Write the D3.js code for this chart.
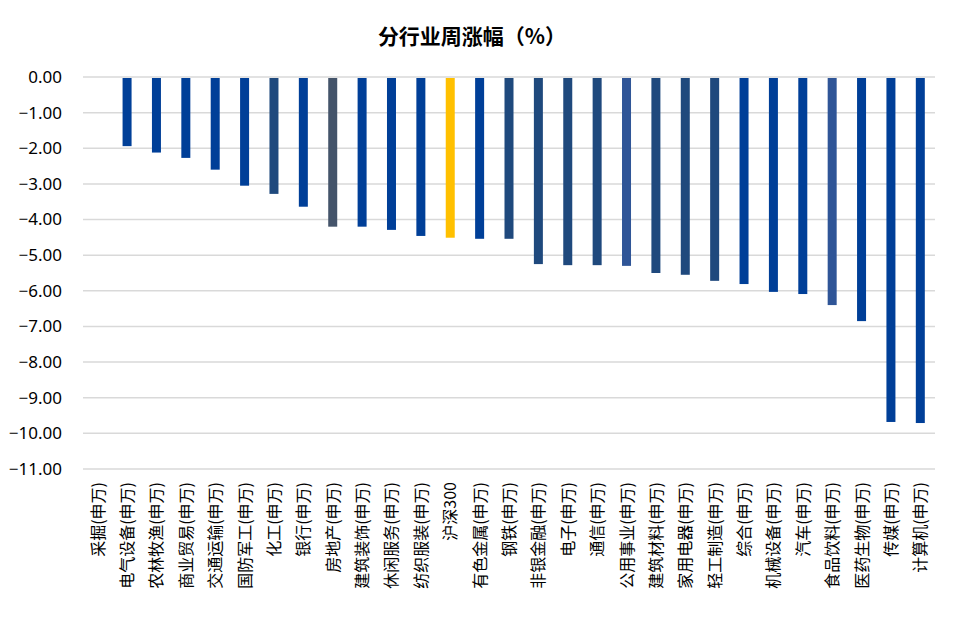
<!DOCTYPE html>
<html>
<head>
<meta charset="utf-8">
<script src="https://cdn.jsdelivr.net/npm/d3@7"></script>
<style>
  body { margin: 0; background: #fff; }
  text { font-family: "Noto Sans CJK SC", "Noto Sans", sans-serif; }
</style>
</head>
<body>
<svg id="chart"></svg>
<script>
// industries, sorted by weekly change
var categories = ["采掘(申万)", "电气设备(申万)", "农林牧渔(申万)", "商业贸易(申万)", "交通运输(申万)",
  "国防军工(申万)", "化工(申万)", "银行(申万)", "房地产(申万)", "建筑装饰(申万)", "休闲服务(申万)",
  "纺织服装(申万)", "沪深300", "有色金属(申万)", "钢铁(申万)", "非银金融(申万)", "电子(申万)",
  "通信(申万)", "公用事业(申万)", "建筑材料(申万)", "家用电器(申万)", "轻工制造(申万)", "综合(申万)",
  "机械设备(申万)", "汽车(申万)", "食品饮料(申万)", "医药生物(申万)", "传媒(申万)", "计算机(申万)"];
var values = [0.00, -1.94, -2.12, -2.27, -2.60, -3.05, -3.28, -3.64, -4.20, -4.20, -4.29,
  -4.46, -4.51, -4.54, -4.54, -5.25, -5.28, -5.28, -5.30, -5.50, -5.55, -5.72, -5.81,
  -6.03, -6.09, -6.40, -6.85, -9.68, -9.71];
// colour group of each bar: b = blue, n = navy, g = slate, l = light blue, y = index
var groups = ["b", "b", "b", "b", "b", "b", "n", "b", "g", "b", "b", "b", "y", "b", "n", "n", "n",
  "n", "l", "n", "n", "n", "b", "b", "b", "l", "b", "b", "b"];
var yTicks = [0, -1, -2, -3, -4, -5, -6, -7, -8, -9, -10, -11];

var palette = { b: "#003f98", n: "#1f497d", g: "#44546a", l: "#2f5597", y: "#ffc000" };

var W = 958, H = 628;
var svg = d3.select("#chart").attr("width", W).attr("height", H);

var x = d3.scaleBand().domain(categories).range([83, 935]);
var y = d3.scaleLinear().domain([-11, 0]).range([469, 77]);

// title
svg.append("text")
  .attr("x", 472).attr("y", 44)
  .attr("text-anchor", "middle")
  .style("font-size", "21px").style("font-weight", "bold")
  .text("分行业周涨幅（%）");

// gridlines
svg.append("g").selectAll("line")
  .data(yTicks).enter().append("line")
  .attr("x1", 83).attr("x2", 935)
  .attr("y1", d => y(d)).attr("y2", d => y(d))
  .attr("stroke", "#d9d9d9").attr("stroke-width", 1.5);

// y axis
var yAxis = svg.append("g")
  .attr("transform", "translate(83,0)")
  .call(d3.axisLeft(y).tickValues(yTicks).tickFormat(d3.format(".2f")).tickSize(0).tickPadding(21));
yAxis.select(".domain").remove();
yAxis.selectAll("text").style("font-size", "17px").attr("fill", "#000")
  .style("font-family", "\"Noto Sans\", sans-serif");

// bars
var bw = 9;
svg.append("g").selectAll("rect")
  .data(values).enter().append("rect")
  .attr("x", (d, i) => x(categories[i]) + x.bandwidth() / 2 - bw / 2)
  .attr("y", d => y(0) + 1)
  .attr("width", bw)
  .attr("height", d => Math.max(0, y(d) - y(0) - 1))
  .attr("fill", (d, i) => palette[groups[i]]);

// category labels, rotated
svg.append("g").selectAll("text")
  .data(categories).enter().append("text")
  .attr("transform", d => "translate(" + (x(d) + x.bandwidth() / 2 + 6) + ",482) rotate(-90)")
  .attr("text-anchor", "end")
  .style("font-size", "16px")
  .text(d => d);
</script>
</body>
</html>
